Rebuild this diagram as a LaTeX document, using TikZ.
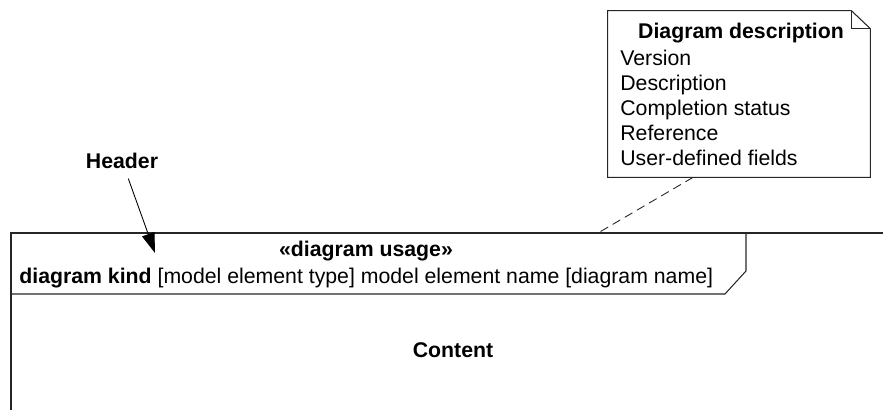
\documentclass[tikz,border=0pt]{standalone}
\usepackage{fontspec}
\setmainfont{Liberation Sans}
\usetikzlibrary{arrows.meta,positioning,calc}

\begin{document}
\begin{tikzpicture}[
    x=1cm,y=1cm,
    frame/.style={draw=black!85, line width=0.6pt},
    txt/.style={font=\fontsize{12.1}{14}\selectfont, inner sep=0pt},
    bold/.style={font=\fontsize{12.1}{14}\selectfont\bfseries, inner sep=0pt},
    field/.style={txt, anchor=base west},
    point/.style={-{Triangle[length=4mm,width=2.6mm]}, draw=black, line width=0.5pt},
    link/.style={draw=black!85, dash pattern=on 5pt off 3pt, line width=0.5pt}
  ]
    \useasboundingbox (0,0) rectangle (17.66,8.2);

    % frame with its header tab
    \draw[frame] (0.22,0) -- (0.22,3.54) -- (17.66,3.54);
    \draw[frame] (14.92,3.54) -- (14.92,2.78) -- (14.5,2.32) -- (0.22,2.32);
    \coordinate (top) at (11.96,3.54);
    \coordinate (hdr) at (3.1,3.14);

    \node[bold, anchor=base] (usage) at (7.32,3.06) {«diagram usage»};
    \node[field] (kind) at (0.38,2.53) {\textbf{diagram kind} [model element type] model element name [diagram name]};
    \node[bold] (content) at (9.06,1.2) {Content};

    \node[bold] (header) at (2.44,4.98) {Header};
    \draw[point, shorten <=2mm] (header) -- (hdr);

    % note with folded corner
    \node[minimum width=5.24cm, minimum height=3.32cm] (desc) at (14.78,6.32) {};
    \draw[frame] ($(desc.north east)+(-0.38,0)$) -- (desc.north west) -- (desc.south west)
      -- (desc.south east) -- ($(desc.north east)+(0,-0.36)$) -- cycle;
    \draw[frame] ($(desc.north east)+(-0.38,0)$) -- ++(0,-0.36) -- ($(desc.north east)+(0,-0.36)$);
    \node[bold, anchor=base] (title) at (14.82,7.43) {Diagram description};
    \node[field] (f1) at (12.4,6.89) {Version};
    \node[field] (f2) at (12.4,6.39) {Description};
    \node[field] (f3) at (12.4,5.89) {Completion status};
    \node[field] (f4) at (12.4,5.39) {Reference};
    \node[field] (f5) at (12.4,4.89) {User-defined fields};

    \draw[link] ($(desc.south west)!0.325!(desc.south east)$) -- (top);
  \end{tikzpicture}
\end{document}
